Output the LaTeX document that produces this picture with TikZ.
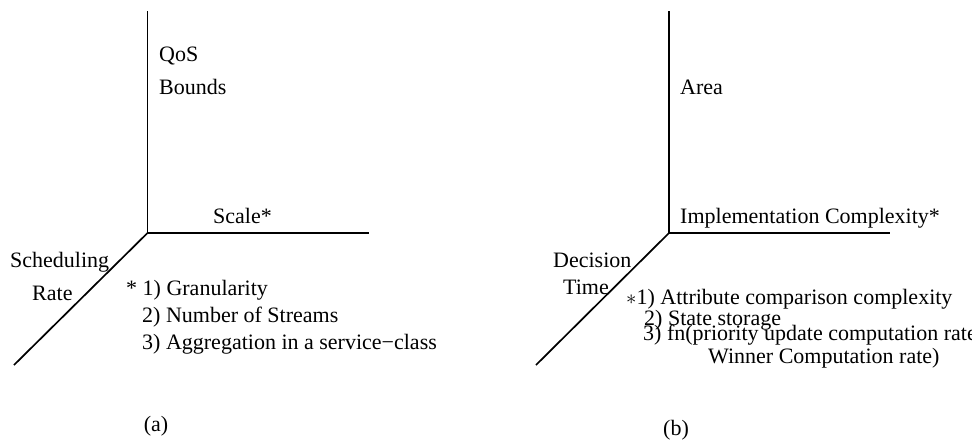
\documentclass[tikz,border=0pt]{standalone}
\usepackage{fontspec}
\setmainfont{Liberation Serif}
\begin{document}
\begin{tikzpicture}[x=1pt,y=-1pt]
          \tikzstyle{axis}=[draw,line width=1.7pt]
          \tikzstyle{word}=[anchor=base west,inner sep=0pt,font=\fontsize{22}{26}\selectfont]
          \tikzstyle{caption}=[anchor=base,inner sep=0pt,font=\fontsize{22}{26}\selectfont]
          \useasboundingbox (0,0) rectangle (972,440);
          % (a)
          \begin{scope}
              \coordinate (oa) at (147.5,233);
              \coordinate (upa) at (147.5,11);
              \coordinate (righta) at (369,233);
              \coordinate (downa) at (14,365);
              \path[axis] (upa) -- (oa) -- (righta);
              \path[axis] (oa) -- (downa);
              \node [word] (qos) at (159,61) {QoS};
              \node [word] (bounds) at (159,94) {Bounds};
              \node [word] (scale) at (213,223) {Scale*};
              \node [word] (sched) at (10,267) {Scheduling};
              \node [word] (rate) at (32,300) {Rate};
              \node [word] (a1) at (126,295) {* 1) Granularity};
              \node [word] (a2) at (142,322) {2) Number of Streams};
              \node [word] (a3) at (142,349) {3) Aggregation in a service\textminus class};
              \node [caption] (capa) at (156,431) {(a)};
          \end{scope}
          % (b)
          \begin{scope}
              \coordinate (ob) at (669,233);
              \coordinate (upb) at (669,11);
              \coordinate (rightb) at (890,233);
              \coordinate (downb) at (536,365);
              \path[axis] (upb) -- (ob) -- (rightb);
              \path[axis] (ob) -- (downb);
              \node [word] (area) at (680,94) {Area};
              \node [word] (impl) at (680,223) {Implementation Complexity*};
              \node [word] (decision) at (553,267) {Decision};
              \node [word] (time) at (563,294) {Time};
              \node [word] (b1) at (626,304) {$\ast$1) Attribute comparison complexity};
              \node [word] (b2) at (644,325) {2) State storage};
              \node [word] (b3) at (643,340) {3) fn(priority update computation rate};
              \node [word] (b4) at (708,363) {Winner Computation rate)};
              \node [caption] (capb) at (676,435) {(b)};
          \end{scope}
\end{tikzpicture}
\end{document}
